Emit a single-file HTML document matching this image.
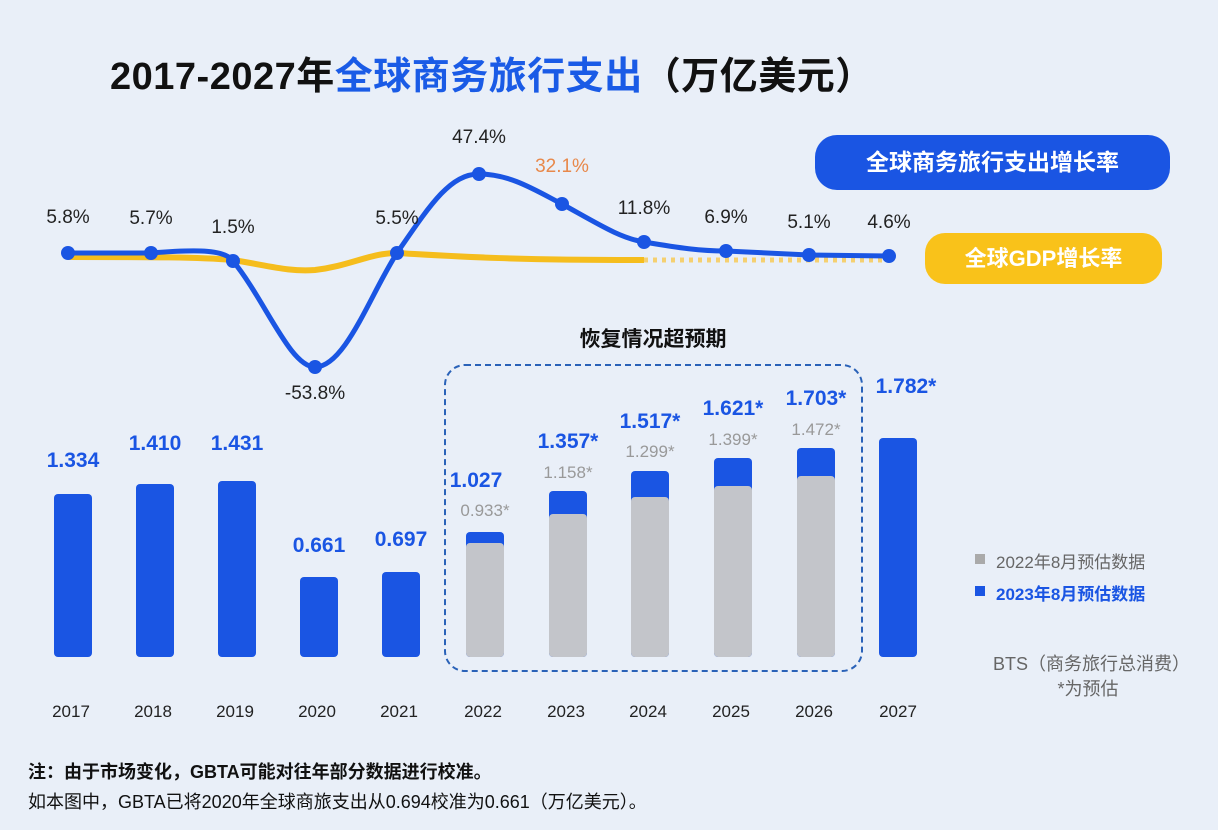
<!DOCTYPE html><html><head><meta charset="utf-8"><style>
body{margin:0;width:1218px;height:830px;background:#e9eff8;font-family:"Liberation Sans","Noto Sans CJK SC",sans-serif;overflow:hidden;position:relative}
.a{position:absolute;white-space:nowrap}
</style></head><body>
<div class="a" style="left:110px;top:45px;font-size:38px;font-weight:bold;color:#111;letter-spacing:0.5px">2017-2027年<span style="color:#1a5be6">全球商务旅行支出</span>（万亿美元）</div>
<div class="a" style="left:815px;top:135px;width:355px;height:55px;border-radius:22px;background:#1a55e3;color:#fff;font-size:23px;font-weight:bold;line-height:55px;text-align:center">全球商务旅行支出增长率</div>
<div class="a" style="left:925px;top:233px;width:237px;height:51px;border-radius:20px;background:#f9c21a;color:#fff;font-size:22px;font-weight:bold;line-height:51px;text-align:center">全球GDP增长率</div>
<svg class="a" style="left:0;top:0" width="1218" height="830">
<path d="M68,257 C150,257 200,257 233,260 C270,266 290,272 315,270 C350,266 370,253 397,253 C450,256 500,260 644,260" fill="none" stroke="#f5bd1d" stroke-width="6"/>
<path d="M644,260 L889,260" fill="none" stroke="#f5d070" stroke-width="5" stroke-dasharray="4,5"/>
<path d="M68,253 L151,253 C200,249 225,250 233,261 C265,300 290,367 315,367 C345,367 370,295 397,253 C430,205 450,174 479,174 C510,174 535,190 562,204 C600,225 620,238 644,242 C680,248 700,251 726,251 L809,255 L889,256" fill="none" stroke="#1a55e3" stroke-width="5"/>
<g fill="#1a55e3"><circle cx="68" cy="253" r="7"/><circle cx="151" cy="253" r="7"/><circle cx="233" cy="261" r="7"/><circle cx="315" cy="367" r="7"/><circle cx="397" cy="253" r="7"/><circle cx="479" cy="174" r="7"/><circle cx="562" cy="204" r="7"/><circle cx="644" cy="242" r="7"/><circle cx="726" cy="251" r="7"/><circle cx="809" cy="255" r="7"/><circle cx="889" cy="256" r="7"/></g>
<g font-size="19" fill="#222" text-anchor="middle">
<text x="68" y="223">5.8%</text><text x="151" y="224">5.7%</text><text x="233" y="233">1.5%</text><text x="315" y="399">-53.8%</text><text x="397" y="224">5.5%</text><text x="479" y="143">47.4%</text><text x="562" y="172" fill="#e8884a">32.1%</text><text x="644" y="214">11.8%</text><text x="726" y="223">6.9%</text><text x="809" y="228">5.1%</text><text x="889" y="228">4.6%</text>
</g>
<text x="653" y="346" font-size="21" font-weight="bold" fill="#111" text-anchor="middle">恢复情况超预期</text>
<rect x="445" y="365" width="417" height="306" rx="20" fill="none" stroke="#2a62b8" stroke-width="2" stroke-dasharray="6,4"/>
<g fill="#1a55e3">
<rect x="54" y="494" width="38" height="163" rx="4"/><rect x="136" y="484" width="38" height="173" rx="4"/><rect x="218" y="481" width="38" height="176" rx="4"/><rect x="300" y="577" width="38" height="80" rx="4"/><rect x="382" y="572" width="38" height="85" rx="4"/>
<rect x="466" y="532" width="38" height="125" rx="4"/><rect x="549" y="491" width="38" height="166" rx="4"/><rect x="631" y="471" width="38" height="186" rx="4"/><rect x="714" y="458" width="38" height="199" rx="4"/><rect x="797" y="448" width="38" height="209" rx="4"/><rect x="879" y="438" width="38" height="219" rx="4"/>
</g>
<g fill="#c3c5ca">
<rect x="466" y="543" width="38" height="114" rx="4"/><rect x="549" y="514" width="38" height="143" rx="4"/><rect x="631" y="497" width="38" height="160" rx="4"/><rect x="714" y="486" width="38" height="171" rx="4"/><rect x="797" y="476" width="38" height="181" rx="4"/>
</g>
<g font-size="21" font-weight="bold" fill="#1a55e3" text-anchor="middle">
<text x="73" y="467">1.334</text><text x="155" y="450">1.410</text><text x="237" y="450">1.431</text><text x="319" y="552">0.661</text><text x="401" y="546">0.697</text><text x="476" y="487">1.027</text><text x="568" y="448">1.357*</text><text x="650" y="428">1.517*</text><text x="733" y="415">1.621*</text><text x="816" y="405">1.703*</text><text x="906" y="393">1.782*</text>
</g>
<g font-size="17" fill="#999" text-anchor="middle">
<text x="485" y="516">0.933*</text><text x="568" y="478">1.158*</text><text x="650" y="457">1.299*</text><text x="733" y="445">1.399*</text><text x="816" y="435">1.472*</text>
</g>
<g font-size="17" fill="#222" text-anchor="middle">
<text x="71" y="717">2017</text><text x="153" y="717">2018</text><text x="235" y="717">2019</text><text x="317" y="717">2020</text><text x="399" y="717">2021</text><text x="483" y="717">2022</text><text x="566" y="717">2023</text><text x="648" y="717">2024</text><text x="731" y="717">2025</text><text x="814" y="717">2026</text><text x="898" y="717">2027</text>
</g>
<rect x="975" y="554" width="10" height="10" fill="#aaa"/><text x="996" y="568" font-size="17" fill="#666">2022年8月预估数据</text>
<rect x="975" y="586" width="10" height="10" fill="#1a55e3"/><text x="996" y="600" font-size="17" font-weight="bold" fill="#1a55e3">2023年8月预估数据</text>
<text x="1190" y="670" font-size="18" fill="#666" text-anchor="end">BTS（商务旅行总消费）</text>
<text x="1088" y="695" font-size="18" fill="#666" text-anchor="middle">*为预估</text>
</svg>
<div class="a" style="left:28px;top:758px;font-size:18px;font-weight:bold;color:#111">注：由于市场变化，GBTA可能对往年部分数据进行校准。</div>
<div class="a" style="left:28px;top:788px;font-size:18px;color:#111">如本图中，GBTA已将2020年全球商旅支出从0.694校准为0.661（万亿美元）。</div>
</body></html>
